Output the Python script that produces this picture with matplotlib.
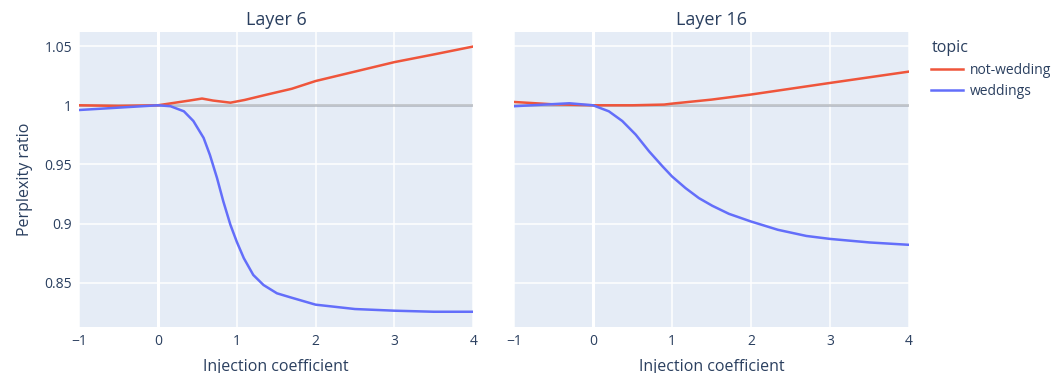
import matplotlib.pyplot as plt

# values
x6 = [-1, -0.5, 0, 0.16, 0.33, 0.45, 0.58, 0.66, 0.75, 0.83, 0.92, 1.0, 1.09, 1.21, 1.34,
      1.51, 1.68, 2.0, 2.5, 3.0, 3.5, 4.0]
wed6 = [0.996, 0.998, 1.0, 0.9992, 0.9949, 0.9867, 0.9724, 0.958, 0.9385, 0.9187, 0.8989,
        0.8847, 0.8707, 0.8565, 0.848, 0.841, 0.8376, 0.8314, 0.8277, 0.8263, 0.8254, 0.8254]
xn6 = [-1, -0.5, 0, 0.2, 0.4, 0.56, 0.7, 0.92, 1.1, 1.38, 1.7, 2.0, 2.5, 3.0, 3.5, 4.0]
notw6 = [1.0, 0.9995, 1.0, 1.002, 1.004, 1.0057, 1.004, 1.0022, 1.0045, 1.009, 1.014,
         1.0205, 1.0285, 1.0365, 1.043, 1.0497]

x16 = [-1, -0.5, -0.3, 0, 0.2, 0.37, 0.54, 0.71, 0.88, 1.0, 1.17, 1.34, 1.51, 1.72, 2.0,
       2.34, 2.7, 3.0, 3.5, 4.0]
wed16 = [0.9992, 1.001, 1.0017, 1.0, 0.9949, 0.9867, 0.9752, 0.961, 0.9483, 0.9398, 0.93,
         0.9215, 0.915, 0.9082, 0.9017, 0.8947, 0.8895, 0.887, 0.884, 0.882]
xn16 = [-1, -0.5, 0, 0.5, 0.9, 1.0, 1.5, 2.0, 2.5, 3.0, 3.5, 4.0]
notw16 = [1.0028, 1.0008, 1.0, 1.0, 1.0006, 1.0014, 1.0048, 1.0091, 1.014, 1.0189, 1.0237, 1.0285]

yticks = [0.85, 0.9, 0.95, 1.0, 1.05]
ylabels = ["0.85", "0.9", "0.95", "1", "1.05"]
xticks = [-1, 0, 1, 2, 3, 4]

RED = "#EF553B"
BLUE = "#636EFA"
TXT = "#2a3f5f"

plt.rcParams['font.family'] = ['Open Sans', 'DejaVu Sans']

fig = plt.figure(figsize=(10.54, 3.73), dpi=100)
ax1 = fig.add_axes([0.075, 0.1233, 0.374, 0.791])
ax2 = fig.add_axes([0.4877, 0.1233, 0.3748, 0.791])

panels = [(ax1, "Layer 6", xn6, notw6, x6, wed6), (ax2, "Layer 16", xn16, notw16, x16, wed16)]
for ax, title, xn, yn, xw, yw in panels:
    ax.set_facecolor("#E5ECF6")
    for s in ax.spines.values():
        s.set_visible(False)
    ax.set_xlim(-1, 4)
    ax.set_ylim(0.8125, 1.062)
    ax.set_xticks(xticks)
    ax.set_xticklabels(["\u22121", "0", "1", "2", "3", "4"])
    ax.set_yticks(yticks)
    ax.grid(True, color="white", linewidth=1.1)
    ax.set_axisbelow(True)
    ax.axvline(0, color="white", linewidth=2.2, zorder=1)
    ax.tick_params(length=0, labelsize=10, labelcolor=TXT, pad=5)
    ax.axhline(1.0, color="#9a9fa8", alpha=0.6, linewidth=2, zorder=2)
    ax.plot(xn, yn, color=RED, linewidth=1.8, label="not-wedding", zorder=3)
    ax.plot(xw, yw, color=BLUE, linewidth=1.8, label="weddings", zorder=3)
    ax.set_title(title, fontsize=13, color=TXT, pad=5)
    ax.set_xlabel("Injection coefficient", fontsize=11.5, color=TXT, labelpad=7)

ax1.set_yticklabels(ylabels)
ax2.set_yticklabels([])
ax1.set_ylabel("Perplexity ratio", fontsize=11.5, color=TXT, labelpad=8)

leg = ax2.legend(title="topic", loc="upper left", bbox_to_anchor=(1.035, 1.0), frameon=False,
                 fontsize=10, title_fontsize=11.5, handlelength=2.3, alignment="left",
                 labelcolor=TXT, borderaxespad=0.2, labelspacing=0.45, handletextpad=0.5)
leg.get_title().set_color(TXT)

fig.savefig("out.png", dpi=100)
